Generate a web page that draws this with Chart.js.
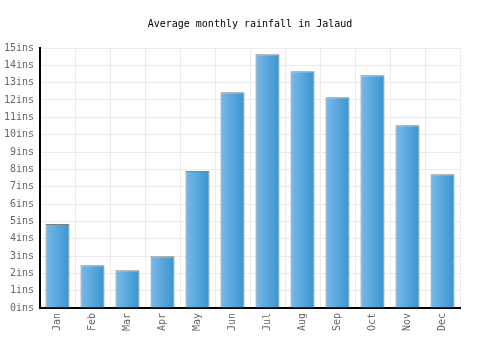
<!DOCTYPE html>
<html>
<head>
<meta charset="utf-8">
<script src="https://cdn.jsdelivr.net/npm/chart.js@4/dist/chart.umd.min.js"></script>
<style>
html,body{margin:0;padding:0;background:#fff;}
#wrap{width:500px;height:350px;}
</style>
</head>
<body>
<div id="wrap"><canvas id="c" width="500" height="350"></canvas></div>
<script>
const titleText = "Average monthly rainfall in Jalaud";
const months = ["Jan","Feb","Mar","Apr","May","Jun","Jul","Aug","Sep","Oct","Nov","Dec"];
const rainfall = [4.84, 2.47, 2.18, 2.99, 7.9, 12.45, 14.64, 13.66, 12.16, 13.43, 10.55, 7.72];
const tickUnit = "ins";
const yMin = 0, yMax = 15, yStep = 1;

const FONT = "'DejaVu Sans Mono', 'Liberation Mono', monospace";

function barGradient(ctx) {
  const chart = ctx.chart;
  const xs = chart.scales && chart.scales.x;
  if (!xs || ctx.dataIndex === undefined) return '#5aa8de';
  const cx = xs.getPixelForValue(ctx.dataIndex);
  const w = (xs.width / months.length) * 0.686;
  if (!isFinite(cx) || !isFinite(w) || w <= 0) return '#5aa8de';
  const g = chart.ctx.createLinearGradient(cx - w / 2, 0, cx + w / 2, 0);
  g.addColorStop(0, '#7ab9eb');
  g.addColorStop(1, '#3895ce');
  return g;
}

const centeredTitle = {
  id: 'centeredTitle',
  afterDraw(chart) {
    const c = chart.ctx;
    c.save();
    c.fillStyle = '#000';
    c.font = "10px " + FONT;
    c.textAlign = 'center';
    c.textBaseline = 'middle';
    c.fillText(titleText, chart.width / 2, 24);
    c.restore();
  }
};

const chart = new Chart(document.getElementById('c'), {
  type: 'bar',
  data: {
    labels: months,
    datasets: [{
      data: rainfall,
      backgroundColor: barGradient,
      borderColor: '#808080',
      borderWidth: 1,
      barPercentage: 0.686,
      categoryPercentage: 1.0
    }]
  },
  options: {
    responsive: false,
    animation: false,
    devicePixelRatio: 1,
    layout: { padding: { left: 0, right: 40, top: 48, bottom: 0 } },
    plugins: {
      legend: { display: false },
      tooltip: { enabled: false },
      title: { display: false }
    },
    scales: {
      x: {
        grid: { color: '#ebebeb', lineWidth: 1, drawTicks: false, offset: true },
        border: { color: '#000', width: 2 },
        ticks: {
          color: '#666',
          font: { family: FONT, size: 10 },
          minRotation: 90, maxRotation: 90,
          padding: 5,
          autoSkip: false
        },
        afterFit: s => { s.height = 42; }
      },
      y: {
        min: yMin, max: yMax,
        grid: { color: '#ebebeb', lineWidth: 1, drawTicks: false },
        border: { color: '#000', width: 2 },
        ticks: {
          stepSize: yStep,
          color: '#666',
          font: { family: FONT, size: 10 },
          padding: 6,
          callback: v => v + tickUnit
        },
        afterFit: s => { s.width = 40; }
      }
    }
  },
  plugins: [centeredTitle]
});
chart.update();
</script>
</body>
</html>
